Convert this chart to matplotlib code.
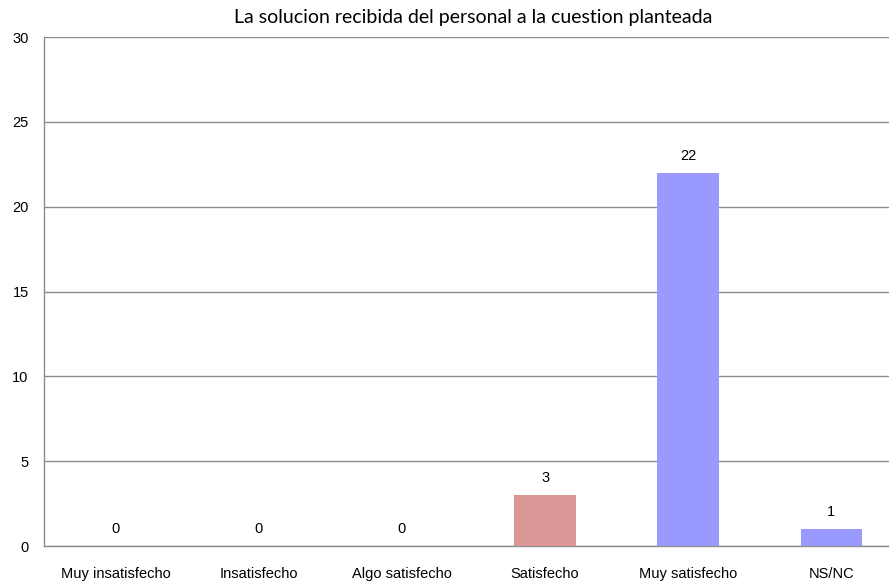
import matplotlib
matplotlib.use("Agg")
import matplotlib.pyplot as plt

categories = ["Muy insatisfecho", "Insatisfecho", "Algo satisfecho", "Satisfecho", "Muy satisfecho", "NS/NC"]
values = [0, 0, 0, 3, 22, 1]
colors = ["#9999FF", "#9999FF", "#9999FF", "#D99694", "#9999FF", "#9999FF"]
yticks = [0, 5, 10, 15, 20, 25, 30]
title = "La solucion recibida del personal a la cuestion planteada"

W, H = 889, 585
fig = plt.figure(figsize=(W / 100, H / 100), dpi=100)
left, right, top, bottom = 44, 903, 37, 546
ax = fig.add_axes([left / W, 1 - bottom / H, (right - left) / W, (bottom - top) / H])

x = list(range(len(categories)))
bars = ax.bar(x, values, width=0.43, color=colors, zorder=3)
ax.set_xlim(-0.5, len(categories) - 0.5)
ax.set_ylim(0, 30)
ax.set_yticks(yticks)
ax.set_yticklabels([str(v) for v in yticks])
ax.yaxis.grid(True, color="#8C8C8C", linewidth=1.0, zorder=0)
ax.set_axisbelow(True)
ax.set_xticks(x)
ax.set_xticklabels(categories)
for sp in ["top", "right"]:
    ax.spines[sp].set_visible(False)
for sp in ["left", "bottom"]:
    ax.spines[sp].set_color("#8C8C8C")
    ax.spines[sp].set_linewidth(1.0)
ax.tick_params(axis="both", length=0, labelsize=10.5, colors="#000000")
ax.tick_params(axis="y", pad=11)
ax.tick_params(axis="x", pad=15)
for lbl in ax.get_xticklabels() + ax.get_yticklabels():
    lbl.set_family("Liberation Sans")

for xi, v in zip(x, values):
    ax.annotate(str(v), (xi, v), xytext=(0, 7), textcoords="offset points",
                ha="center", va="bottom", fontsize=10.5, family="Liberation Sans")

fig.text(473 / W, 1 - 18 / H, title, ha="center", va="center", fontsize=14, family="Lato")

fig.savefig("out.png", dpi=100)
